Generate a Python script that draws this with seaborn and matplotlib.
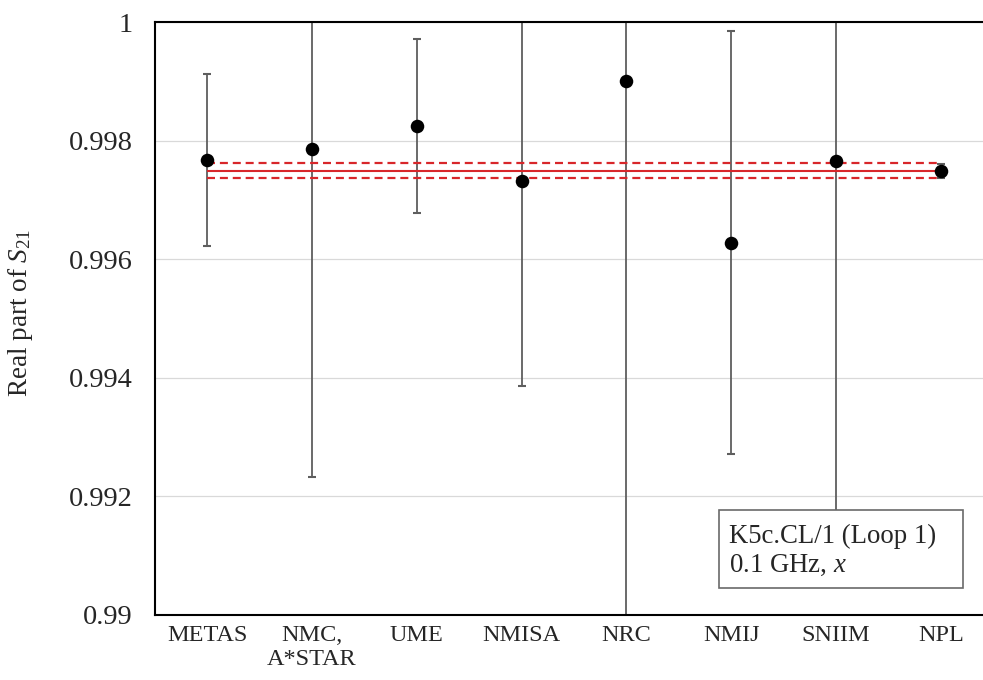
import numpy as np
import pandas as pd
import seaborn as sns
import matplotlib.pyplot as plt
from matplotlib.patches import Rectangle

# Degerler
labs = ['METAS', 'NMC,\nA*STAR', 'UME', 'NMISA', 'NRC', 'NMIJ', 'SNIIM', 'NPL']
real_s21 = [0.99768, 0.99785, 0.99825, 0.99732, 0.99901, 0.99628, 0.99766, 0.99749]
unc = [0.00145, 0.00552, 0.00147, 0.00345, 0.0115, 0.00357, 0.0067, 0.00012]
ref_val = 0.99749
ref_unc = 0.000125

sns.set_style('white')
plt.rcParams['font.family'] = ['Liberation Serif', 'DejaVu Serif']
plt.rcParams['mathtext.fontset'] = 'custom'
plt.rcParams['mathtext.rm'] = 'Liberation Serif'
plt.rcParams['mathtext.it'] = 'Liberation Serif:italic'

df = pd.DataFrame({'lab': labs, 'val': real_s21, 'unc': unc})

fig = plt.figure(figsize=(9.83, 6.8), dpi=100)
ax = fig.add_axes([154.6 / 983, 1 - 615 / 680, 838.8 / 983, 593 / 680])

# referans degeri ve belirsizlik sinirlari
red = '#d8262a'
ax.hlines(ref_val, 0, len(labs) - 1, color=red, lw=1.5, zorder=3)
for s in (-1, 1):
    ax.hlines(ref_val + s * ref_unc, 0, len(labs) - 1, color=red, lw=1.6,
              linestyles=(0, (3.6, 2.2)), zorder=3)

ax.errorbar(df['lab'], df['val'], yerr=df['unc'], fmt='none', ecolor='#5e5e5e',
            elinewidth=1.3, capsize=3, capthick=1.5, zorder=2)
sns.scatterplot(data=df, x='lab', y='val', color='black', s=95, edgecolor='black',
                linewidth=0, zorder=4, ax=ax)

ax.set_xlim(-0.5, len(labs) - 0.5)
ax.set_ylim(0.99, 1.0)
ax.set_yticks([0.99, 0.992, 0.994, 0.996, 0.998, 1.0])
ax.set_yticklabels(['0.99', '0.992', '0.994', '0.996', '0.998', '1'])
ax.tick_params(axis='y', length=0, pad=16, labelsize=20.5)
ax.tick_params(axis='x', length=0, pad=7, labelsize=17.5)
ax.grid(axis='y', color='#d9d9d9', lw=0.9)
ax.set_axisbelow(True)
for sp in ax.spines.values():
    sp.set_color('black')
    sp.set_linewidth(1.5)

ax.set_xlabel('')
ax.set_ylabel(r'Real part of $\mathit{S}_{\mathrm{21}}$', fontsize=19.5)
ax.yaxis.set_label_coords(-0.142, 0.51)

# aciklama kutusu
ax.add_patch(Rectangle((0.673, 0.0455), 0.291, 0.1316, transform=ax.transAxes,
                       fc='white', ec='#6a6a6a', lw=1.2, zorder=5))
ax.text(0.685, 0.108, 'K5c.CL/1 (Loop 1)\n0.1 GHz, $\\mathit{x}$', transform=ax.transAxes,
        ha='left', va='center', fontsize=19.3, linespacing=1.22, zorder=6)

plt.savefig('out.png', dpi=100)
